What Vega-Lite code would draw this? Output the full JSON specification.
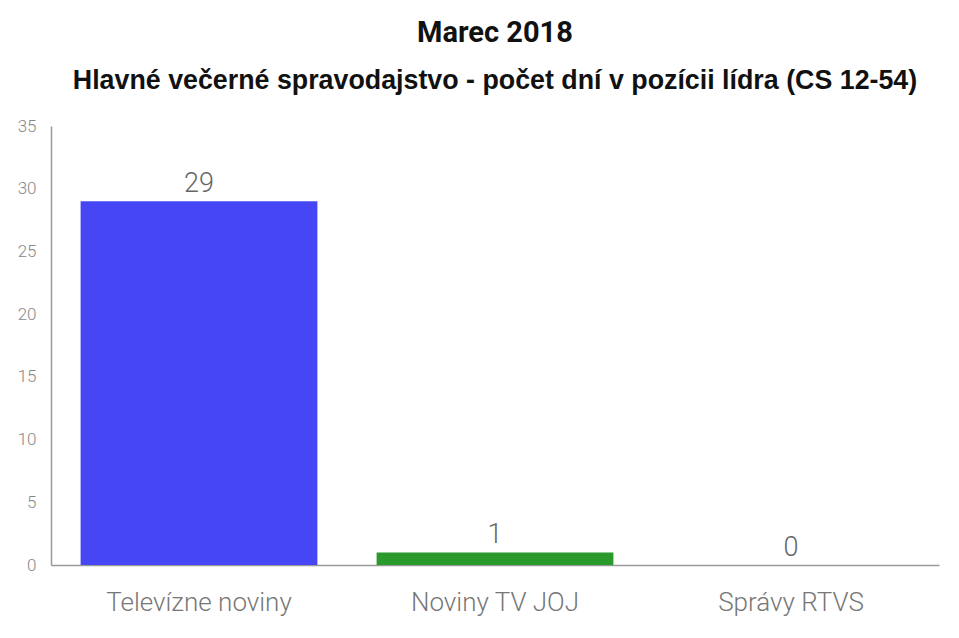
{
  "$schema": "https://vega.github.io/schema/vega-lite/v6.json",
  "autosize": {"type": "none"},
  "padding": {"left": 51, "top": 126, "right": 20, "bottom": 73},
  "width": 888,
  "height": 439,
  "view": {"stroke": null},
  "title": {
    "text": "Marec 2018",
    "subtitle": "Hlavné večerné spravodajstvo - počet dní v pozícii lídra (CS 12-54)",
    "font": "Roboto",
    "fontSize": 29,
    "fontWeight": "bold",
    "color": "#111111",
    "subtitleFont": "Liberation Sans",
    "subtitleFontSize": 26.8,
    "subtitleFontWeight": "bold",
    "subtitleColor": "#111111",
    "subtitlePadding": 20,
    "anchor": "middle",
    "offset": 22
  },
  "data": {
    "values": [
      {"program": "Televízne noviny", "days": 29},
      {"program": "Noviny TV JOJ", "days": 1},
      {"program": "Správy RTVS", "days": 0}
    ]
  },
  "encoding": {
    "x": {
      "field": "program",
      "type": "nominal",
      "sort": null,
      "title": null,
      "scale": {"paddingInner": 0.2, "paddingOuter": 0.1},
      "axis": {
        "labelAngle": 0,
        "ticks": false,
        "labelPadding": 24,
        "labelLimit": 0,
        "labelFont": "Roboto",
        "labelFontWeight": 300,
        "labelFontSize": 26,
        "labelColor": "#777777",
        "domainColor": "#999999",
        "domainWidth": 1.5
      }
    },
    "y": {
      "field": "days",
      "type": "quantitative",
      "title": null,
      "scale": {"domain": [0, 35], "nice": false},
      "axis": {
        "values": [0, 5, 10, 15, 20, 25, 30, 35],
        "grid": false,
        "ticks": false,
        "labelPadding": 15,
        "labelFont": "Roboto",
        "labelFontWeight": 300,
        "labelFontSize": 17,
        "labelColor": "#888888",
        "domainColor": "#999999",
        "domainWidth": 1.5
      }
    }
  },
  "layer": [
    {
      "mark": {"type": "bar"},
      "encoding": {
        "color": {
          "field": "program",
          "type": "nominal",
          "scale": {
            "domain": ["Televízne noviny", "Noviny TV JOJ", "Správy RTVS"],
            "range": ["#4646f5", "#2b9a2d", "#d62728"]
          },
          "legend": null
        }
      }
    },
    {
      "mark": {
        "type": "text",
        "baseline": "bottom",
        "dy": -3,
        "font": "Roboto",
        "fontWeight": 300,
        "fontSize": 27,
        "color": "#666666"
      },
      "encoding": {
        "text": {"field": "days", "type": "quantitative"}
      }
    }
  ]
}
